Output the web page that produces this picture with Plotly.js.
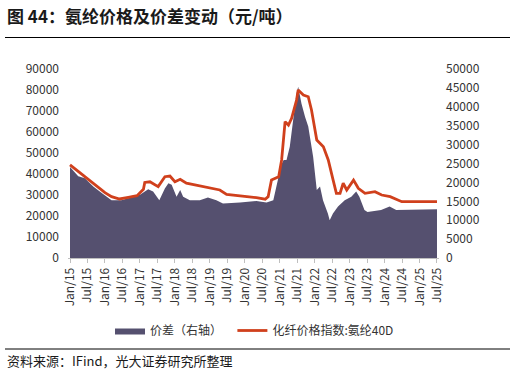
<!DOCTYPE html>
<html>
<head>
<meta charset="utf-8">
<script src="https://cdn.plot.ly/plotly-3.0.1.min.js"></script>
<style>html,body{margin:0;padding:0;background:#fff;}#chart{width:515px;height:370px;}</style>
</head>
<body>
<div id="chart"></div>
<script>
// 化纤价格指数:氨纶40D (left axis, 元/吨)
const priceDates = ['2015-01-01','2015-04-01','2015-06-01','2015-09-18','2016-01-01','2016-03-10','2016-06-01','2016-09-01','2016-12-01','2017-02-06','2017-02-20','2017-04-15','2017-07-10','2017-09-18','2017-11-10','2018-01-01','2018-02-25','2018-05-01','2018-08-01','2018-12-01','2019-04-15','2019-06-25','2019-11-12','2020-05-01','2020-08-01','2020-09-01','2020-10-06','2020-12-20','2021-01-20','2021-02-25','2021-04-01','2021-05-04','2021-06-25','2021-07-12','2021-09-04','2021-10-25','2021-11-28','2022-01-22','2022-04-01','2022-05-22','2022-07-12','2022-08-15','2022-09-22','2022-10-25','2022-12-01','2023-02-10','2023-04-01','2023-06-10','2023-09-22','2023-12-01','2024-02-28','2024-05-06','2024-06-28','2025-07-01'];
const priceValues = [44300,41100,39000,34800,31100,29200,28100,28900,29700,32700,36000,36300,34000,38700,39000,36300,37500,35600,34800,33700,32400,30300,29700,28700,28000,29200,37100,38700,46700,64900,63300,66500,75200,80000,77600,76800,70500,56200,53000,46700,37100,30800,30800,35600,32400,37100,33200,30800,31600,30000,29200,28000,26800,26800];

// 价差 (right axis, 元/吨)
const spreadDates = ['2015-01-01','2015-03-28','2015-06-05','2015-09-01','2015-12-12','2016-03-10','2016-06-20','2016-10-03','2017-01-01','2017-03-28','2017-05-18','2017-07-22','2017-09-18','2017-10-25','2017-11-28','2018-01-18','2018-02-25','2018-03-28','2018-06-06','2018-09-18','2018-12-12','2019-03-10','2019-05-18','2019-11-12','2020-05-01','2020-08-15','2020-10-25','2020-12-12','2021-01-04','2021-02-10','2021-03-12','2021-04-15','2021-05-18','2021-06-25','2021-07-12','2021-08-15','2021-09-22','2021-10-25','2021-12-15','2022-01-22','2022-02-25','2022-03-28','2022-05-18','2022-06-06','2022-07-10','2022-09-01','2022-11-10','2023-01-18','2023-03-10','2023-04-12','2023-06-04','2023-07-06','2023-11-25','2024-02-22','2024-05-01','2024-07-28','2025-01-18','2025-07-01'];
const spreadValues = [24100,21600,21100,18900,16900,15300,15300,16000,16700,18200,17600,15300,18400,19800,19400,16200,18000,16200,15300,15300,16000,15300,14400,14700,15100,14700,15300,20700,24100,25900,25900,29400,36600,43600,45300,40900,37300,34800,26800,18000,18900,15300,11800,10000,11800,13600,15300,16200,17600,16200,12700,12200,12700,13600,12700,12700,12900,12900];

const tickDates = [];
const tickLabels = [];
for (let y = 15; y <= 25; y++) {
  tickDates.push('20' + y + '-01-01'); tickLabels.push('Jan/' + y);
  tickDates.push('20' + y + '-07-01'); tickLabels.push('Jul/' + y);
}
const leftTicks = [0,10000,20000,30000,40000,50000,60000,70000,80000,90000];
const rightTicks = [0,5000,10000,15000,20000,25000,30000,35000,40000,45000,50000];

const FONT = '"Noto Sans CJK SC", "Noto Sans", sans-serif';

const traces = [
  {
    x: spreadDates, y: spreadValues, name: '价差（右轴）\u00a0\u00a0',
    type: 'scatter', mode: 'lines', fill: 'tozeroy',
    line: {width: 0, color: '#55506f'}, fillcolor: '#55506f',
    xaxis: 'x', yaxis: 'y'
  },
  {
    x: priceDates, y: priceValues, name: '化纤价格指数:氨纶40D',
    type: 'scatter', mode: 'lines',
    line: {width: 2.8, color: '#d0401c', shape: 'linear'},
    xaxis: 'x', yaxis: 'y2'
  }
];

const L = 68, R = 439, T = 69, B = 258;
const W = R - L, H = B - T;
const px = v => (v - L) / W;
const py = v => (B - v) / H;

const layout = {
  width: 515, height: 370,
  margin: {l: L, r: 515 - R, t: T, b: 370 - B, pad: 0},
  paper_bgcolor: '#ffffff', plot_bgcolor: '#ffffff',
  font: {family: FONT, size: 12, color: '#333333'},
  showlegend: true,
  legend: {
    orientation: 'h', x: px(110), xanchor: 'left', y: py(316), yanchor: 'top',
    font: {family: FONT, size: 12, color: '#333333'},
    itemwidth: 30, tracegroupgap: 0, bgcolor: 'rgba(0,0,0,0)'
  },
  xaxis: {
    type: 'date', range: ['2014-12-11', '2025-07-22'],
    tickvals: tickDates, ticktext: tickLabels, tickangle: -90,
    showgrid: false, zeroline: false,
    showline: true, linecolor: '#bfbfbf', linewidth: 1,
    ticks: 'outside', ticklen: 4, tickcolor: '#bfbfbf',
    tickfont: {family: FONT, size: 12, color: '#333333'}
  },
  yaxis: {
    side: 'right', range: [0, 50000], tickvals: rightTicks,
    ticktext: rightTicks.map(String),
    showgrid: false, zeroline: false, showline: false, ticks: '',
    ticklabelstandoff: 6,
    tickfont: {family: FONT, size: 12, color: '#333333'}
  },
  yaxis2: {
    side: 'left', overlaying: 'y', range: [0, 90000], tickvals: leftTicks,
    ticktext: leftTicks.map(String),
    showgrid: false, zeroline: false, showline: false, ticks: '',
    ticklabelstandoff: 8,
    tickfont: {family: FONT, size: 12, color: '#333333'}
  },
  shapes: [
    {type: 'line', xref: 'paper', yref: 'paper', x0: px(5), x1: px(510), y0: py(37.5), y1: py(37.5), line: {color: '#000000', width: 1}},
    {type: 'line', xref: 'paper', yref: 'paper', x0: px(5), x1: px(510), y0: py(349), y1: py(349), line: {color: '#000000', width: 1}}
  ],
  annotations: [
    {text: '<b>图 44：氨纶价格及价差变动（元/吨）</b>', xref: 'paper', yref: 'paper', x: px(5), y: py(16), xanchor: 'left', yanchor: 'middle', showarrow: false, font: {family: FONT, size: 17, color: '#1a1a1a'}},
    {text: '资料来源：IFind，光大证券研究所整理', xref: 'paper', yref: 'paper', x: px(5), y: py(360), xanchor: 'left', yanchor: 'middle', showarrow: false, font: {family: FONT, size: 13, color: '#1a1a1a'}}
  ]
};

Plotly.newPlot('chart', traces, layout, {displayModeBar: false, staticPlot: true});
</script>
</body>
</html>
